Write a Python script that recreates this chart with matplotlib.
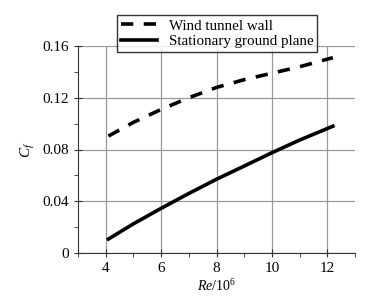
import matplotlib
matplotlib.use("Agg")
import matplotlib.pyplot as plt
from matplotlib.ticker import MultipleLocator

plt.rcParams['font.family'] = ['Liberation Serif', 'DejaVu Serif']
plt.rcParams['mathtext.fontset'] = 'custom'
plt.rcParams['mathtext.rm'] = 'Liberation Serif'
plt.rcParams['mathtext.it'] = 'Liberation Serif:italic'

re_wall = [4.1, 5.0, 6.0, 7.0, 8.0, 9.0, 10.0, 11.0, 12.2]
cf_wall = [0.0904, 0.101, 0.111, 0.120, 0.128, 0.134, 0.139, 0.144, 0.151]
re_ground = [4.1, 5.0, 6.0, 7.0, 8.0, 9.0, 10.0, 11.0, 12.2]
cf_ground = [0.0108, 0.0225, 0.0345, 0.0460, 0.0570, 0.0672, 0.0775, 0.0873, 0.0980]
labels = ["Wind tunnel wall", "Stationary ground plane"]

fig = plt.figure(figsize=(3.88, 2.99), dpi=100)
ax = fig.add_axes([0.201, 0.154, 0.714, 0.692])
ax.plot(re_wall, cf_wall, color='black', lw=2.6, dashes=(3.4, 2.9), label=labels[0])
ax.plot(re_ground, cf_ground, color='black', lw=2.6, label=labels[1])

ax.set_xlim(3, 13)
ax.set_ylim(0, 0.16)
ax.set_xticks([4, 6, 8, 10, 12])
ax.set_yticks([0, 0.04, 0.08, 0.12, 0.16])
ax.set_yticklabels(["0", "0.04", "0.08", "0.12", "0.16"])
ax.xaxis.set_minor_locator(MultipleLocator(1))
ax.yaxis.set_minor_locator(MultipleLocator(0.02))
ax.grid(True, which='major', color='#999999', lw=0.9)
ax.set_axisbelow(True)
for s in ['top', 'right']:
    ax.spines[s].set_visible(False)
for s in ['left', 'bottom']:
    ax.spines[s].set_color('#333333')
ax.tick_params(which='major', direction='inout', length=6, labelsize=11, color='#333333')
ax.tick_params(which='minor', direction='out', length=3, color='#333333')
ax.set_xlabel(r"$Re$/10$^6$", fontsize=10, labelpad=2)
ax.set_ylabel(r"$C_f$", fontsize=11, labelpad=4)

leg = ax.legend(loc='lower left', bbox_to_anchor=(0.141, 0.971), fontsize=10.8,
                frameon=True, fancybox=False, edgecolor='black', handlelength=2.4,
                borderpad=0.25, labelspacing=0.15, handletextpad=0.8, borderaxespad=0)
leg.get_frame().set_linewidth(1.0)
fig.savefig("out.png", dpi=100)
